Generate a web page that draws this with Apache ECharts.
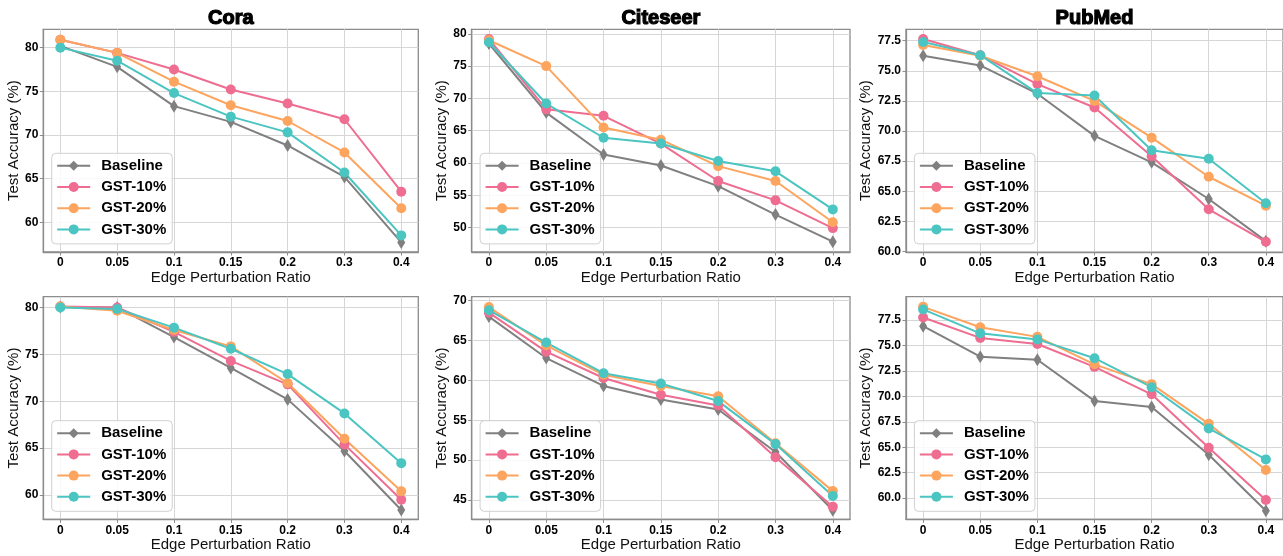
<!DOCTYPE html>
<html>
<head>
<meta charset="utf-8">
<title>Edge perturbation robustness</title>
<script src="https://cdn.jsdelivr.net/npm/echarts@6/dist/echarts.min.js"></script>
<style>
  html, body { margin: 0; padding: 0; background: #fff; }
  #chart { width: 1283px; height: 556px; }
</style>
</head>
<body>
<div id="chart"></div>
<script>
// Perturbation ratios on the x axis (evenly spaced categories)
const ratios = ['0', '0.05', '0.1', '0.15', '0.2', '0.3', '0.4'];
const seriesNames = ['Baseline', 'GST-10%', 'GST-20%', 'GST-30%'];

// Test accuracy (%) per dataset, rows: Baseline, GST-10%, GST-20%, GST-30%
const coraTop = [
  [80.2, 77.8, 73.3, 71.5, 68.8, 65.2, 57.7],
  [80.9, 79.4, 77.5, 75.2, 73.6, 71.8, 63.5],
  [80.9, 79.4, 76.1, 73.4, 71.6, 68.0, 61.6],
  [80.0, 78.5, 74.8, 72.1, 70.3, 65.7, 58.5]
];
const citeseerTop = [
  [78.5, 67.8, 61.3, 59.6, 56.4, 52.0, 47.8],
  [79.2, 68.3, 67.3, 63.0, 57.2, 54.2, 49.9],
  [79.0, 75.0, 65.5, 63.6, 59.5, 57.2, 50.8],
  [78.7, 69.2, 63.9, 63.0, 60.3, 58.7, 52.8]
];
const pubmedTop = [
  [76.25, 75.45, 73.1, 69.6, 67.4, 64.35, 60.85],
  [77.65, 76.3, 73.9, 71.95, 67.9, 63.5, 60.8],
  [77.15, 76.25, 74.55, 72.5, 69.45, 66.2, 63.8],
  [77.4, 76.3, 73.15, 72.95, 68.4, 67.7, 64.0]
];
const coraBottom = [
  [80.05, 80.0, 76.85, 73.55, 70.2, 64.7, 58.4],
  [80.1, 80.0, 77.4, 74.3, 71.8, 65.4, 59.5],
  [80.1, 79.65, 77.6, 75.85, 71.95, 66.0, 60.4],
  [80.0, 79.85, 77.85, 75.6, 72.9, 68.7, 63.4]
];
const citeseerBottom = [
  [68.0, 62.8, 59.3, 57.6, 56.35, 51.0, 43.7],
  [68.5, 63.6, 60.3, 58.2, 56.85, 50.35, 44.15],
  [69.2, 64.4, 60.7, 59.3, 58.0, 52.1, 46.1],
  [68.8, 64.75, 60.9, 59.6, 57.4, 52.0, 45.5]
];
const pubmedBottom = [
  [76.9, 73.9, 73.6, 69.55, 68.95, 64.25, 58.75],
  [77.75, 75.75, 75.15, 72.9, 70.2, 64.95, 59.8],
  [78.8, 76.8, 75.85, 73.15, 71.2, 67.3, 62.75],
  [78.55, 76.2, 75.6, 73.75, 70.9, 66.85, 63.8]
];

// Y tick labels per panel
const ticksCora = [60, 65, 70, 75, 80];
const ticksCiteseerTop = [50, 55, 60, 65, 70, 75, 80];
const ticksCiteseerBottom = [45, 50, 55, 60, 65, 70];
const ticksPubmed = [60, 62.5, 65, 67.5, 70, 72.5, 75, 77.5];

const titles = ['Cora', 'Citeseer', 'PubMed'];

const colors = ['#808080', '#EE6D90', '#FDA45E', '#4BC5C1'];
const FONT = '"Liberation Sans", Arial, Helvetica, sans-serif';
const thinDiamond = 'path://M0,-10 L6,0 L0,10 L-6,0 Z';

// Panel layout: grid rectangles, y ranges, label formats
const colLeft = [43.3, 471.7, 906];
const colWidth = [375, 378.3, 377];
const rowTop = [29.3, 296.7];
const rowHeight = 222.7;

const panels = [
  { data: coraTop,        ticks: ticksCora,           yMin: 56.6,  yMax: 82.1,  dec: 0, col: 0, row: 0 },
  { data: citeseerTop,    ticks: ticksCiteseerTop,    yMin: 46.2,  yMax: 80.7,  dec: 0, col: 1, row: 0 },
  { data: pubmedTop,      ticks: ticksPubmed,         yMin: 59.95, yMax: 78.45, dec: 1, col: 2, row: 0 },
  { data: coraBottom,     ticks: ticksCora,           yMin: 57.4,  yMax: 81.15, dec: 0, col: 0, row: 1 },
  { data: citeseerBottom, ticks: ticksCiteseerBottom, yMin: 42.55, yMax: 70.5,  dec: 0, col: 1, row: 1 },
  { data: pubmedBottom,   ticks: ticksPubmed,         yMin: 57.9,  yMax: 79.8,  dec: 1, col: 2, row: 1 }
];

const xIdx = ratios.map((_, i) => i);
const axisGray = '#8c8c8c';
const gridGray = '#d6d6d6';

const grid = [], xAxis = [], yAxis = [], series = [], legend = [], title = [];

panels.forEach((p, k) => {
  const left = colLeft[p.col];
  const top = rowTop[p.row];
  grid.push({
    left: left, top: top, width: colWidth[p.col], height: rowHeight,
    show: true, borderColor: axisGray, borderWidth: 1.3, backgroundColor: 'transparent'
  });
  xAxis.push({
    type: 'value', gridIndex: k, min: -0.3, max: 6.3,
    name: 'Edge Perturbation Ratio', nameLocation: 'middle', nameGap: 16,
    nameTextStyle: { fontFamily: FONT, fontSize: 15, color: '#111' },
    axisLine: { show: true, onZero: false, lineStyle: { color: axisGray, width: 1.3 } },
    axisTick: { show: true, length: 3.5, customValues: xIdx, lineStyle: { color: axisGray } },
    axisLabel: {
      customValues: xIdx, margin: 5,
      formatter: v => ratios[Math.round(v)],
      fontFamily: FONT, fontWeight: 'bold', fontSize: 12, color: '#000'
    },
    splitLine: { show: true, lineStyle: { color: gridGray, width: 1 } }
  });
  yAxis.push({
    type: 'value', gridIndex: k, min: p.yMin, max: p.yMax,
    name: 'Test Accuracy (%)', nameLocation: 'middle', nameGap: p.dec ? 31 : 18,
    nameTextStyle: { fontFamily: FONT, fontSize: 15, color: '#111' },
    axisLine: { show: true, onZero: false, lineStyle: { color: axisGray, width: 1.3 } },
    axisTick: { show: true, length: 3.5, customValues: p.ticks, lineStyle: { color: axisGray } },
    axisLabel: {
      customValues: p.ticks, margin: 5,
      formatter: v => v.toFixed(p.dec),
      fontFamily: FONT, fontWeight: 'bold', fontSize: 12, color: '#000'
    },
    splitLine: { show: true, lineStyle: { color: gridGray, width: 1 } }
  });
  p.data.forEach((vals, s) => {
    series.push({
      type: 'line', name: seriesNames[s], xAxisIndex: k, yAxisIndex: k,
      data: vals.map((v, i) => [i, v]),
      symbol: s === 0 ? thinDiamond : 'circle',
      symbolSize: s === 0 ? [8, 13] : 10,
      showSymbol: true,
      lineStyle: { color: colors[s], width: 2 },
      itemStyle: { color: colors[s] },
      emphasis: { disabled: true },
      animation: false
    });
  });
  legend.push({
    orient: 'vertical',
    left: left + 8.4, top: top + 124,
    data: seriesNames,
    itemWidth: 33, itemHeight: 12.5, itemGap: 4.2,
    padding: [4, 6, 6, 4.5],
    borderColor: '#d0d0d0', borderWidth: 1, borderRadius: 4,
    backgroundColor: 'rgba(255,255,255,0.85)',
    textStyle: {
      fontFamily: FONT, fontWeight: 'bold', fontSize: 15, color: '#000',
      lineHeight: 17, padding: [0, 0, 0, 6]
    },
    selectedMode: false
  });
  if (p.row === 0) {
    title.push({
      text: titles[p.col],
      left: left + colWidth[p.col] / 2, top: 8, textAlign: 'center', padding: 0,
      textStyle: {
        fontFamily: FONT, fontWeight: 'bold', fontSize: 20, color: '#000',
        textBorderColor: '#000', textBorderWidth: 1.2
      }
    });
  }
});

const chart = echarts.init(document.getElementById('chart'), null, { renderer: 'canvas' });
chart.setOption({
  animation: false,
  backgroundColor: '#fff',
  color: colors,
  title: title,
  grid: grid,
  xAxis: xAxis,
  yAxis: yAxis,
  legend: legend,
  series: series
});
</script>
</body>
</html>
